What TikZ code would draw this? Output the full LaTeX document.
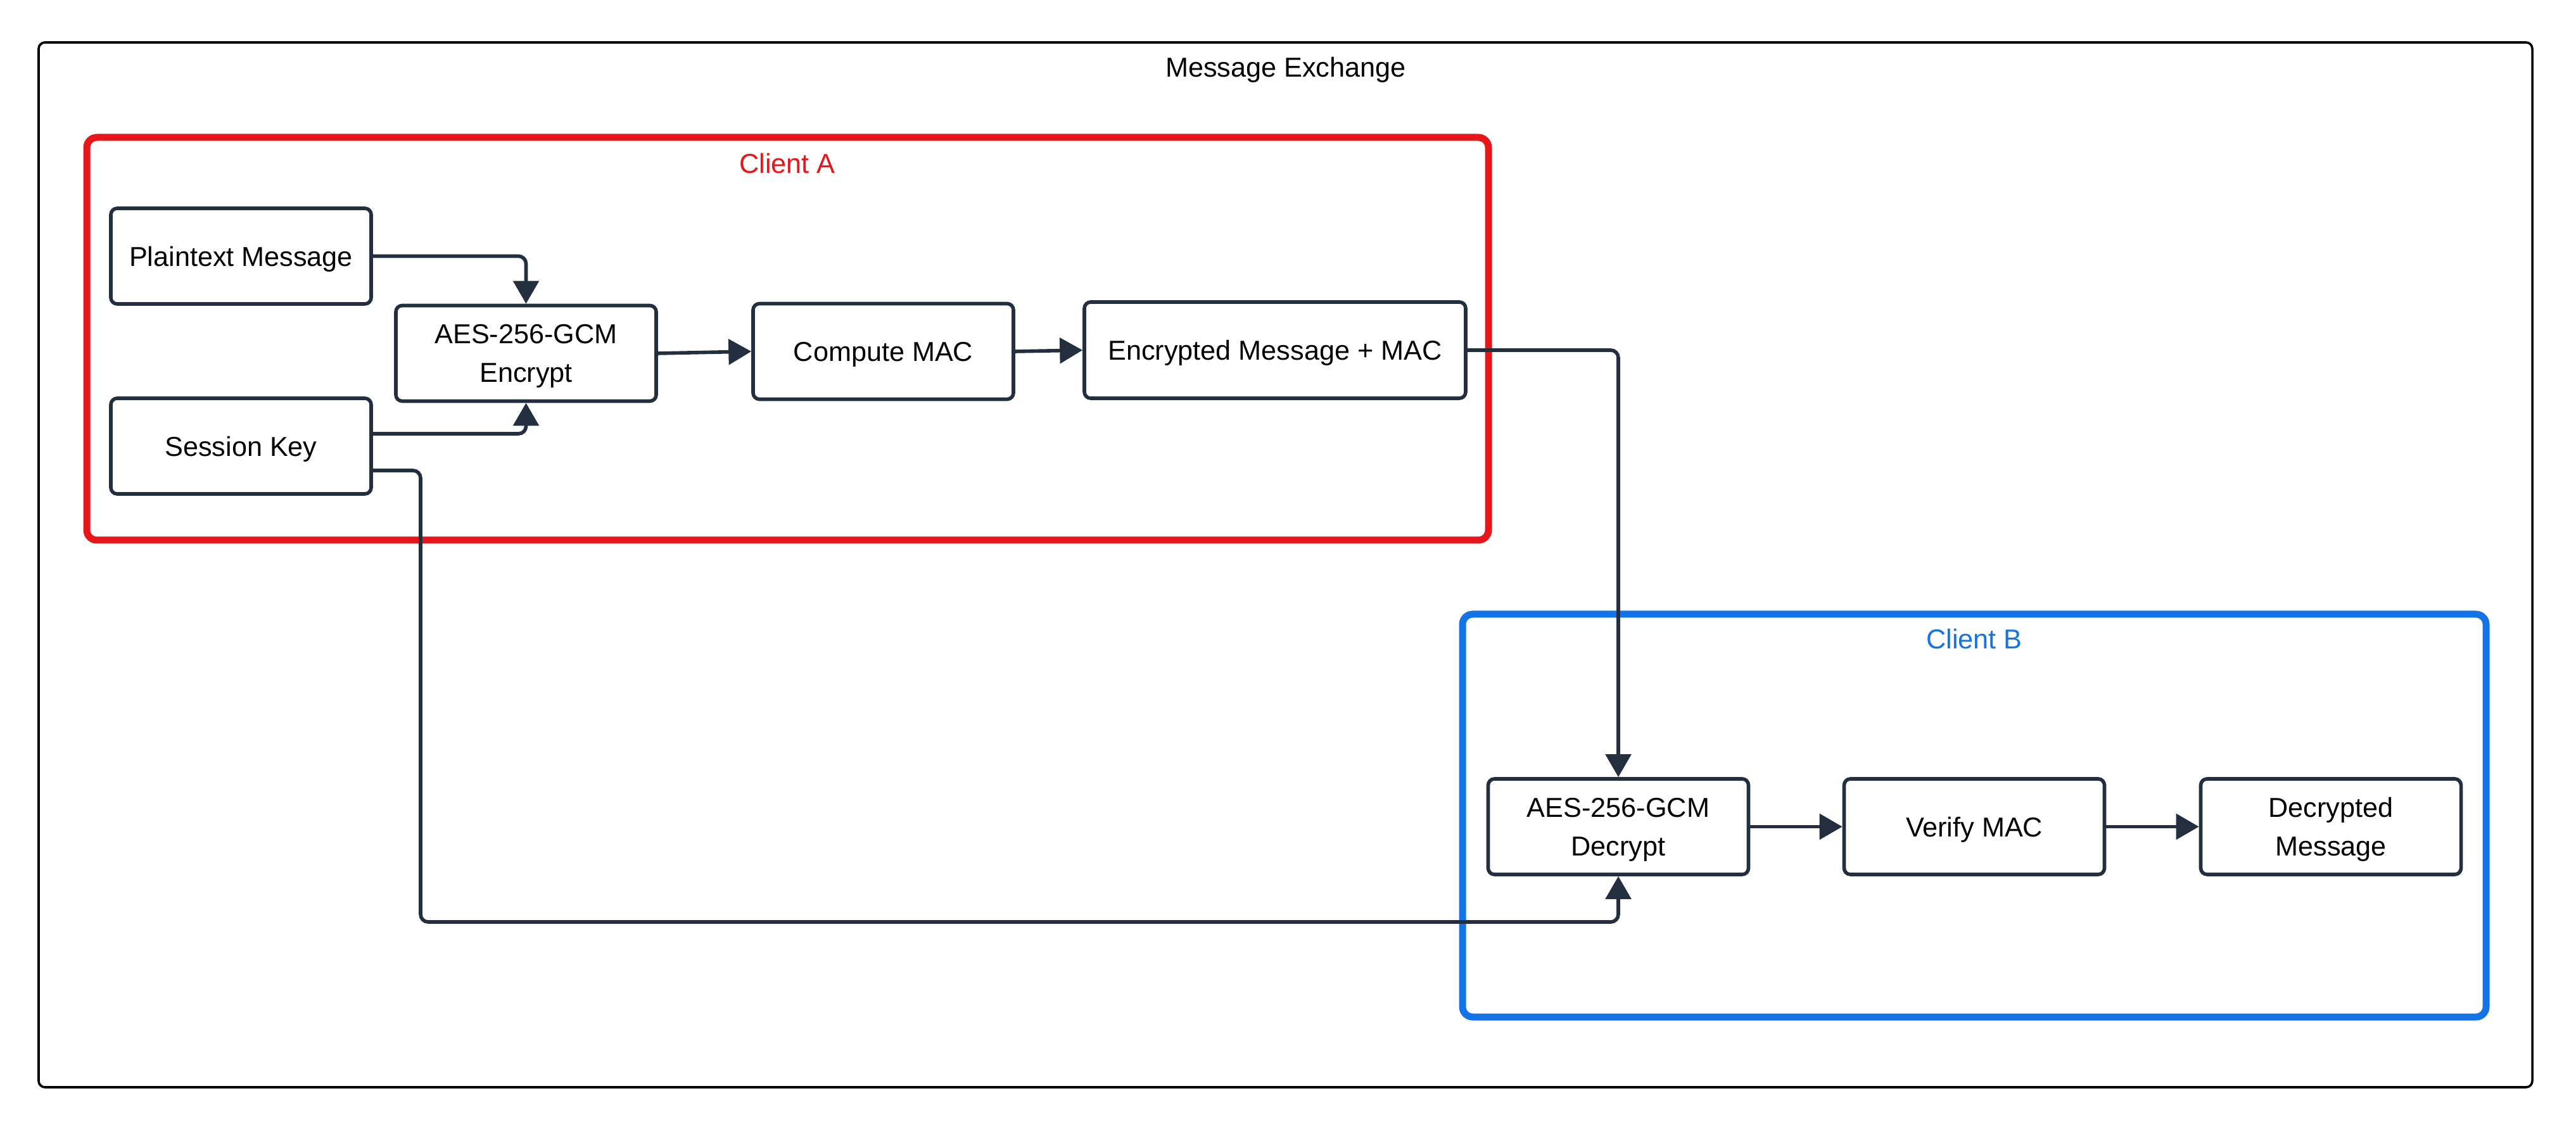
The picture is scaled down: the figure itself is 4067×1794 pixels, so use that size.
\documentclass[tikz,border=0pt]{standalone}
\usepackage{fontspec}
\setmainfont{Liberation Sans}
\usetikzlibrary{arrows.meta,calc}
\definecolor{navy}{HTML}{232F3E}
\definecolor{clientred}{HTML}{E8161A}
\definecolor{clientblue}{HTML}{1473E6}
\tikzset{
  stepbox/.style={draw=navy, line width=1.4pt, rounded corners=2.5pt, fill=white,
    minimum width=102.75pt, minimum height=37.75pt, inner sep=2pt, align=center,
    text depth=0pt, font=\fontsize{10.8}{15.25}\selectfont, text=black},
  conn/.style={draw=navy, line width=1.4pt, rounded corners=3pt,
    -{Triangle[length=9pt,width=10pt]}},
  group/.style={line width=2.75pt, rounded corners=4pt},
  lbl/.style={font=\fontsize{10.8}{13}\selectfont, inner sep=0pt}
}
\begin{document}
\begin{tikzpicture}[x=0.25pt,y=-0.25pt]
\useasboundingbox (0,0) rectangle (4067,1794);
% outer frame
\draw[line width=0.9pt, draw=black, rounded corners=2.5pt] (61,67) rectangle (3998,1717);
\node[lbl] (title) at (2030,110) {Message Exchange};
% Client A
\draw[group, draw=clientred] (137,217) rectangle (2350,853);
\node[lbl, text=clientred] (clienta) at (1243,258) {Client A};
% Client B
\draw[group, draw=clientblue] (2309,970) rectangle (3925,1606);
\node[lbl, text=clientblue] (clientb) at (3117,1009) {Client B};
% nodes
\node[stepbox] (plain) at (380.5,404.5) {Plaintext Message};
\node[stepbox] (session) at (380.5,704.5) {Session Key};
\node[stepbox] (enc) at (830.5,558) {AES-256-GCM\\Encrypt};
\node[stepbox] (cmac) at (1394.5,555) {Compute MAC};
\node[stepbox, minimum width=150.5pt, minimum height=38pt] (emsg) at (2013,553) {Encrypted Message + MAC};
\node[stepbox] (dec) at (2555,1305.5) {AES-256-GCM\\Decrypt};
\node[stepbox] (vmac) at (3117,1305.5) {Verify MAC};
\node[stepbox] (dmsg) at (3680,1305.5) {Decrypted\\Message};
% connectors
\coordinate (s1) at ($(session.east)+(0,-19.5)$);
\coordinate (s2) at ($(session.east)+(0,38.5)$);
\coordinate (skbend) at (664,1456);
\draw[conn] (plain.east) -| (enc.north);
\draw[conn] (s1) -| (enc.south);
\draw[conn] (enc.east) -- (cmac.west);
\draw[conn] (cmac.east) -- (emsg.west);
\draw[conn] (emsg.east) -| (dec.north);
\draw[conn] (s2) -| (skbend) -| (dec.south);
\draw[conn] (dec.east) -- (vmac.west);
\draw[conn] (vmac.east) -- (dmsg.west);
\end{tikzpicture}
\end{document}
